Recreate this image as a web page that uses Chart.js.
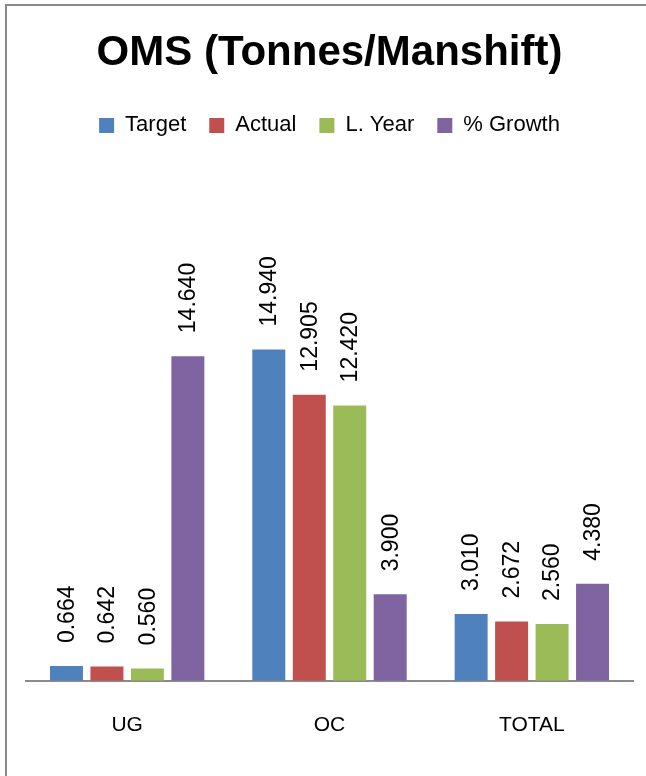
<!DOCTYPE html>
<html>
<head>
<meta charset="utf-8">
<script src="https://cdn.jsdelivr.net/npm/chart.js@4"></script>
<style>
html,body{margin:0;padding:0;background:#fff;overflow:hidden;}
#wrap{position:absolute;left:0;top:0;width:646px;height:776px;}
</style>
</head>
<body>
<div id="wrap"><canvas id="c" width="646" height="776"></canvas></div>
<script>
const categories = ["UG", "OC", "TOTAL"];
const seriesNames = ["Target", "Actual", "L. Year", "% Growth"];
const targetValues = [0.664, 14.940, 3.010];
const actualValues = [0.642, 12.905, 2.672];
const lastYearValues = [0.560, 12.420, 2.560];
const growthValues = [14.640, 3.900, 4.380];
const seriesColors = ["#4F81BD", "#C0504D", "#9BBB59", "#8064A2"];
const titleText = "OMS (Tonnes/Manshift)";

const FONT = "'Liberation Sans', Arial, sans-serif";

const framePlugin = {
  id: 'frame',
  beforeDraw(chart) {
    const ctx = chart.ctx;
    ctx.save();
    ctx.fillStyle = '#fff';
    ctx.fillRect(0, 0, chart.width, chart.height);
    ctx.strokeStyle = '#8a8a8a';
    ctx.lineWidth = 2;
    ctx.beginPath();
    ctx.moveTo(6, chart.height);
    ctx.lineTo(6, 5);
    ctx.lineTo(chart.width, 5);
    ctx.stroke();
    ctx.restore();
  }
};

const labelPlugin = {
  id: 'barLabels',
  afterDatasetsDraw(chart) {
    const ctx = chart.ctx;
    ctx.save();
    ctx.font = "23px " + FONT;
    ctx.fillStyle = '#000';
    ctx.textAlign = 'left';
    ctx.textBaseline = 'middle';
    chart.data.datasets.forEach((ds, i) => {
      const meta = chart.getDatasetMeta(i);
      meta.data.forEach((bar, j) => {
        const v = ds.data[j];
        ctx.save();
        ctx.translate(bar.x, bar.y - 23);
        ctx.rotate(-Math.PI / 2);
        ctx.fillText(v.toFixed(3), 0, 1);
        ctx.restore();
      });
    });
    ctx.restore();
  }
};

const seriesData = [targetValues, actualValues, lastYearValues, growthValues];

new Chart(document.getElementById('c'), {
  type: 'bar',
  data: {
    labels: categories,
    datasets: seriesNames.map((name, i) => ({
      label: name,
      data: seriesData[i],
      backgroundColor: seriesColors[i],
      borderWidth: 0,
      categoryPercentage: 0.80,
      barPercentage: 0.815
    }))
  },
  options: {
    responsive: false,
    animation: false,
    devicePixelRatio: 1,
    layout: { padding: { left: 26, right: 13, top: 0, bottom: 6 } },
    plugins: {
      title: {
        display: true,
        text: titleText,
        color: '#000',
        font: { family: FONT, size: 42, weight: 'bold' },
        padding: { top: 28, bottom: 13 }
      },
      legend: {
        display: true,
        position: 'top',
        labels: {
          color: '#000',
          font: { family: FONT, size: 22 },
          boxWidth: 15,
          boxHeight: 15,
          padding: 23
        }
      },
      tooltip: { enabled: false }
    },
    scales: {
      x: {
        grid: { display: false, drawTicks: false },
        border: { display: true, color: '#8a8a8a', width: 2 },
        ticks: { color: '#000', font: { family: FONT, size: 21 }, padding: 32 }
      },
      y: {
        display: false,
        min: 0,
        max: 24.1
      }
    }
  },
  plugins: [framePlugin, labelPlugin]
});
</script>
</body>
</html>
